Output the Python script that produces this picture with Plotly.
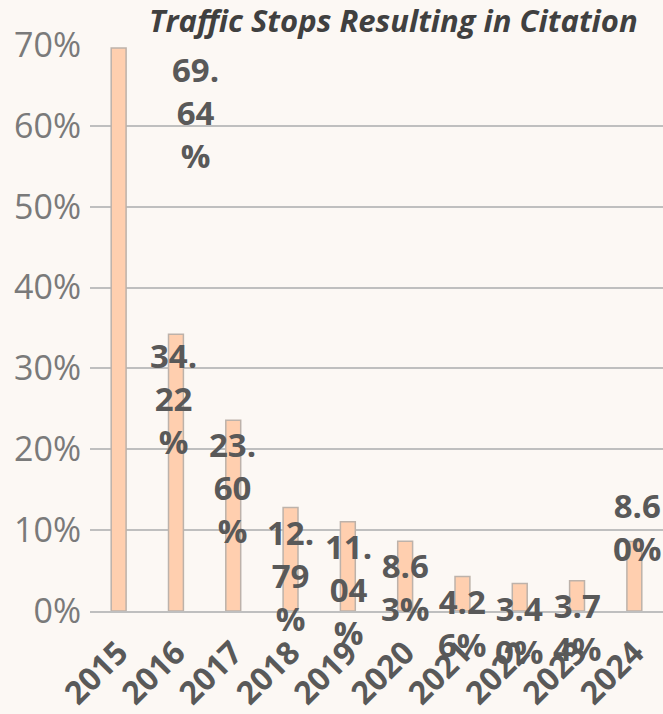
import plotly.graph_objects as go

years = ["2015", "2016", "2017", "2018", "2019", "2020", "2021", "2022", "2023", "2024"]
citation_pct = [69.64, 34.22, 23.60, 12.79, 11.04, 8.63, 4.26, 3.40, 3.74, 8.60]
y_ticks = [0, 10, 20, 30, 40, 50, 60, 70]
y_tick_labels = [f"{t}%" for t in y_ticks]
title_text = "Traffic Stops Resulting in Citation"

# label placement tweaks (pixels) – style only
label_xshift = [77, -2, -1, 0, 1, 0, 0, 0, 0, 3]
label_yshift = [3, 3, 0, 0, 0, 0, 0, 0, 0, 60]


def wrap_label(v):
    s = f"{v:.2f}%"
    whole, dec = s[:-1].split(".")
    if len(whole) == 2:
        return f"{whole}.<br>{dec}<br>%"
    return f"{s[:3]}<br>{s[3:]}"


BG = "#FCF8F4"
fig = go.Figure()
fig.add_trace(go.Bar(
    x=years, y=citation_pct,
    marker=dict(color="#FFCFAF", line=dict(color="#BDB2AA", width=1.5)),
    hoverinfo="skip",
))

for i, v in enumerate(citation_pct):
    fig.add_annotation(
        x=i, y=v, xref="x", yref="y",
        text=wrap_label(v), showarrow=False,
        xanchor="center", yanchor="top",
        xshift=label_xshift[i], yshift=label_yshift[i],
        font=dict(family="Open Sans", size=33, color="#595959", weight="bold"),
        align="center",
    )

fig.add_annotation(
    text=f"<b><i>{title_text}</i></b>",
    xref="paper", yref="paper", x=1.0, y=1.0,
    xanchor="right", yanchor="middle", yshift=25, xshift=-23,
    showarrow=False,
    font=dict(family="Open Sans", size=31, color="#404040"),
)

fig.update_layout(
    width=663, height=714,
    margin=dict(l=90, r=0, t=45, b=103),
    paper_bgcolor=BG, plot_bgcolor=BG,
    bargap=0.74,
    showlegend=False,
    xaxis=dict(
        type="category",
        range=[-0.5, len(years) - 0.5],
        tickangle=-45,
        tickfont=dict(family="Open Sans", size=32, color="#595959", weight="bold"),
        showgrid=False, showline=True, linecolor="#BFBFBF", linewidth=2,
        ticks="", ticklabelstandoff=8,
    ),
    yaxis=dict(
        range=[0, 70], tickmode="array", tickvals=y_ticks, ticktext=y_tick_labels,
        tickfont=dict(family="Open Sans", size=34, color="#7A7A7A"),
        showgrid=True, gridcolor="#BFBFBF", gridwidth=2,
        zeroline=False, showline=False, ticks="",
        ticklabelstandoff=8,
    ),
)

fig.write_html("out.html", config={"displayModeBar": False},
               post_script="document.body.style.margin='0';")
